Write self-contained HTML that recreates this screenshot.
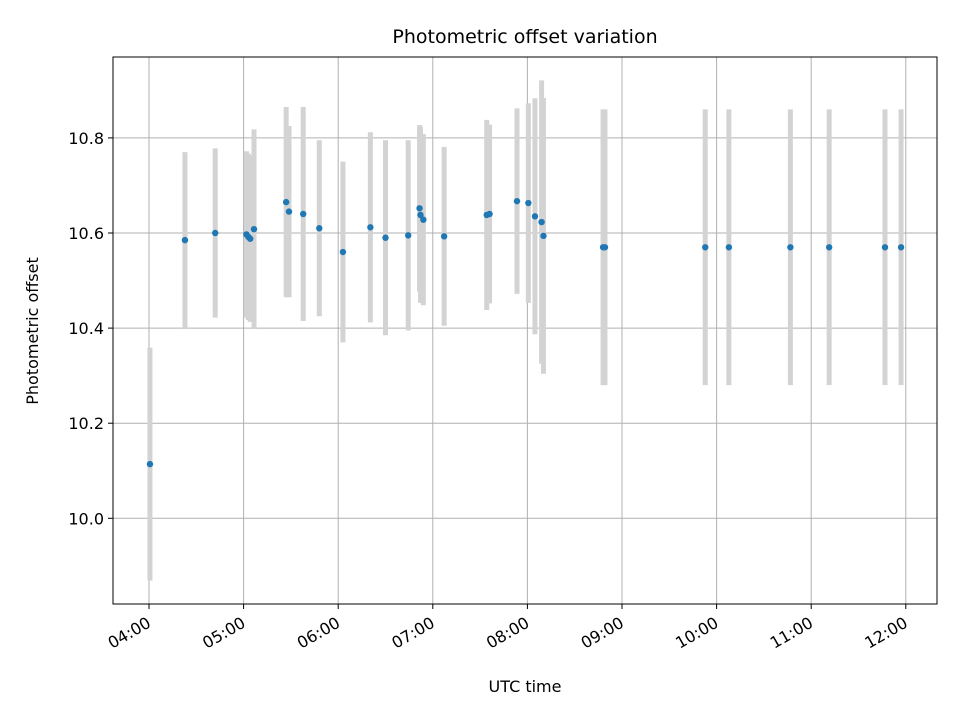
<!DOCTYPE html>
<html><head><meta charset="utf-8"><style>body{margin:0;background:#fff}svg{display:block;font-family:"DejaVu Sans","Liberation Sans",sans-serif}</style></head>
<body>
<svg id="chart" width="960" height="720">
<rect width="960" height="720" fill="#fff"/>
<text x="525" y="43" text-anchor="middle" font-size="19">Photometric offset variation</text>
<text x="525" y="692" text-anchor="middle" font-size="16">UTC time</text>
<text transform="translate(38,331) rotate(-90)" text-anchor="middle" font-size="16">Photometric offset</text>
<g id="grid"></g><g id="bars"></g><g id="pts"></g><g id="axes"></g>
</svg>
<script>
const times=[4.01,4.38,4.70,5.03,5.05,5.07,5.11,5.45,5.48,5.63,5.80,6.05,6.34,6.50,6.74,6.86,6.87,6.90,7.12,7.57,7.60,7.89,8.01,8.08,8.15,8.17,8.80,8.82,9.88,10.13,10.78,11.19,11.78,11.95];
const values=[10.114,10.585,10.600,10.597,10.592,10.588,10.608,10.665,10.645,10.640,10.610,10.560,10.612,10.590,10.595,10.652,10.638,10.628,10.593,10.638,10.640,10.667,10.663,10.635,10.623,10.594,10.570,10.570,10.570,10.570,10.570,10.570,10.570,10.570];
const errors=[0.245,0.185,0.178,0.175,0.175,0.175,0.21,0.2,0.18,0.225,0.185,0.19,0.2,0.205,0.2,0.175,0.185,0.18,0.188,0.2,0.188,0.195,0.21,0.248,0.298,0.29,0.29,0.29,0.29,0.29,0.29,0.29,0.29,0.29];
const xTicks=[4,5,6,7,8,9,10,11,12];
const xTickLabels=["04:00","05:00","06:00","07:00","08:00","09:00","10:00","11:00","12:00"];
const yTicks=[10.0,10.2,10.4,10.6,10.8];
const yTickLabels=["10.0","10.2","10.4","10.6","10.8"];
const L=113,R=937,T=57,B=604;
const xs=h=>149+(h-4)*94.6;
const ys=v=>233-(v-10.6)*475.5;
const NS="http://www.w3.org/2000/svg";
function mk(tag,attrs,parent){const e=document.createElementNS(NS,tag);for(const k in attrs)e.setAttribute(k,attrs[k]);parent.appendChild(e);return e;}
const grid=document.getElementById('grid'),bars=document.getElementById('bars'),pts=document.getElementById('pts'),axes=document.getElementById('axes');
xTicks.forEach((t,i)=>{
 const x=xs(t);
 const g=mk('line',{x1:x,x2:x,y1:T,y2:B,stroke:'#b0b0b0','stroke-width':1},grid);
 
 
 const tk=mk('line',{x1:x,x2:x,y1:B,y2:B+5,stroke:'#000','stroke-width':1},axes);
 
 
 const lb=mk('text',{x:0,y:0,'text-anchor':'end','font-size':16,transform:`translate(${x+3},${B+22}) rotate(-30)`},axes);
 lb.textContent=xTickLabels[i];
 
 
});
yTicks.forEach((t,i)=>{
 const y=ys(t);
 const g=mk('line',{x1:L,x2:R,y1:y,y2:y,stroke:'#b0b0b0','stroke-width':1},grid);
 
 
 const tk=mk('line',{x1:L-5,x2:L,y1:y,y2:y,stroke:'#000','stroke-width':1},axes);
 
 
 const lb=mk('text',{x:L-9,y:y+6,'text-anchor':'end','font-size':16},axes);
 lb.textContent=yTickLabels[i];
 
 
});
times.forEach((t,i)=>{
 const x=xs(t);
 const b=mk('line',{x1:x,x2:x,y1:ys(values[i]+errors[i]),y2:ys(values[i]-errors[i]),stroke:'#d3d3d3','stroke-width':5},bars);
 
 
 const p=mk('circle',{cx:x,cy:ys(values[i]),r:3.2,fill:'#1f77b4'},pts);
 
 
});
const f=mk('rect',{x:L,y:T,width:R-L,height:B-T,fill:'none',stroke:'#000','stroke-width':1},axes);


</script>
</body></html>
